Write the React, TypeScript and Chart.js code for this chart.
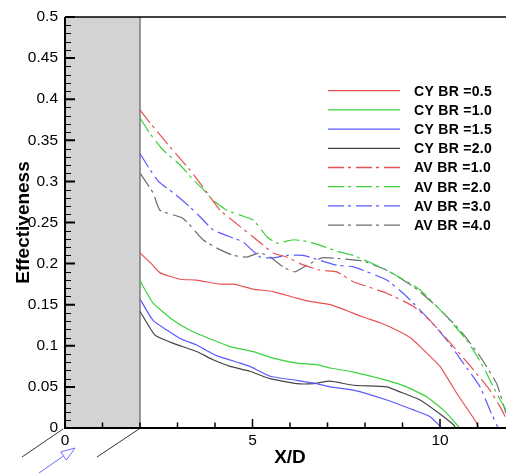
import React, { useEffect, useRef } from 'react';
import { Chart, registerables } from 'chart.js';

Chart.register(...registerables);

// ---- data (X/D, effectiveness) ----
const cyBR05: [number, number][] = [[2,0.213],[2.3,0.2],[2.53,0.189],[3.07,0.181],[3.5,0.18],[4.13,0.175],[4.5,0.175],[5.01,0.169],[5.55,0.166],[6.18,0.158],[6.53,0.154],[7.07,0.15],[7.5,0.143],[7.95,0.135],[8.4,0.128],[8.85,0.119],[9.2,0.11],[9.47,0.099],[10,0.075],[10.45,0.042],[10.98,0.006],[11.03,0]];
const cyBR10: [number, number][] = [[2,0.179],[2.35,0.152],[2.89,0.131],[3.33,0.119],[3.95,0.107],[4.4,0.099],[5.02,0.093],[5.55,0.085],[6.18,0.079],[6.71,0.077],[7.07,0.073],[7.69,0.068],[8.58,0.058],[9.11,0.05],[9.64,0.038],[10.09,0.022],[10.49,0.002],[10.52,0]];
const cyBR15: [number, number][] = [[2,0.157],[2.35,0.131],[3.07,0.109],[3.51,0.101],[4.04,0.088],[4.67,0.079],[4.93,0.075],[5.47,0.063],[6.18,0.058],[6.71,0.054],[7.07,0.05],[7.69,0.046],[8.58,0.034],[9.29,0.022],[9.73,0.014],[10.05,0]];
const cyBR20: [number, number][] = [[2,0.142],[2.4,0.113],[2.89,0.103],[3.51,0.093],[3.95,0.083],[4.4,0.075],[4.93,0.069],[5.47,0.06],[6.18,0.054],[6.62,0.054],[7.07,0.057],[7.69,0.052],[8.58,0.05],[8.93,0.044],[9.47,0.034],[9.91,0.02],[10.36,0.004],[10.42,0]];
const avBR10: [number, number][] = [[2,0.387],[2.27,0.371],[2.8,0.342],[3.33,0.314],[3.6,0.298],[3.87,0.281],[4.13,0.265],[4.4,0.255],[4.67,0.245],[5.11,0.229],[5.55,0.213],[5.91,0.208],[6.27,0.2],[6.8,0.192],[7.25,0.19],[7.69,0.178],[8.58,0.164],[9.29,0.148],[9.73,0.131],[10.36,0.099],[10.89,0.071],[11.33,0.046],[11.6,0.026],[11.76,0.012]];
const avBR20: [number, number][] = [[2,0.377],[2.27,0.358],[2.62,0.338],[3.07,0.32],[3.42,0.302],[3.69,0.29],[3.95,0.277],[4.31,0.265],[4.67,0.259],[5.02,0.253],[5.38,0.233],[5.64,0.225],[6.09,0.229],[6.44,0.227],[6.89,0.221],[7.25,0.215],[7.69,0.21],[8.58,0.192],[9.47,0.168],[10.18,0.135],[10.71,0.107],[11.15,0.075],[11.51,0.042],[11.76,0.022]];
const avBR30: [number, number][] = [[2,0.334],[2.27,0.314],[2.49,0.3],[2.89,0.286],[3.33,0.269],[3.6,0.257],[3.95,0.241],[4.49,0.231],[4.76,0.226],[5.2,0.208],[5.55,0.207],[5.91,0.21],[6.35,0.21],[6.8,0.204],[7.25,0.198],[7.69,0.196],[8.58,0.18],[9.11,0.16],[9.73,0.131],[10.18,0.107],[10.62,0.079],[11.07,0.05],[11.33,0.022],[11.55,0]];
const avBR40: [number, number][] = [[2,0.31],[2.35,0.286],[2.53,0.265],[3.15,0.255],[3.68,0.229],[4.13,0.217],[4.49,0.21],[4.84,0.208],[5.2,0.213],[5.47,0.208],[5.82,0.196],[6.13,0.19],[6.45,0.198],[6.85,0.207],[7.33,0.206],[7.95,0.203],[8.58,0.192],[9.29,0.172],[9.91,0.148],[10.53,0.119],[11.07,0.087],[11.51,0.054],[11.76,0.018]];

const seriesLabels = ['CY BR =0.5', 'CY BR =1.0', 'CY BR =1.5', 'CY BR =2.0', 'AV BR =1.0', 'AV BR =2.0', 'AV BR =3.0', 'AV BR =4.0'];
const seriesData = [cyBR05, cyBR10, cyBR15, cyBR20, avBR10, avBR20, avBR30, avBR40];

const xMajorTicks = [0, 5, 10];
const xMinorTicks = [1, 2, 3, 4, 6, 7, 8, 9, 11];
const yMajorTicks = [0, 0.05, 0.1, 0.15, 0.2, 0.25, 0.3, 0.35, 0.4, 0.45, 0.5];
const yMinorStep = 0.01;
const xMin = 0;
const xMax = 11.76;
const yMin = 0;
const yMax = 0.5;
const wallStart = 0;
const wallEnd = 2;
const xTitle = 'X/D';
const yTitle = 'Effectiveness';

// ---- styles ----
const colors = ['#e65252', '#3cd23c', '#5a5aff', '#464646', '#e65252', '#3cd23c', '#5a5aff', '#6e6e6e'];
const dashDot = [16, 4, 3, 5];
const FONT = '"Liberation Sans", Arial, sans-serif';

const decorPlugin = {
  id: 'decor',
  beforeDatasetsDraw(chart: any) {
    const { ctx, chartArea, scales } = chart;
    const { top, bottom } = chartArea;
    const x0 = scales.x.getPixelForValue(wallStart);
    const x2 = scales.x.getPixelForValue(wallEnd);
    ctx.save();
    ctx.fillStyle = '#d3d3d3';
    ctx.fillRect(x0, top, x2 - x0, bottom - top);
    ctx.strokeStyle = '#7a7a7a';
    ctx.lineWidth = 1.5;
    ctx.beginPath();
    ctx.moveTo(x2, top);
    ctx.lineTo(x2, bottom);
    ctx.stroke();
    ctx.restore();
  },
  afterDraw(chart: any) {
    const { ctx, chartArea, scales } = chart;
    const { top, bottom, left, right } = chartArea;
    const xs = scales.x;
    const ys = scales.y;
    ctx.save();
    // axes frame
    ctx.strokeStyle = '#000';
    ctx.lineWidth = 2;
    ctx.beginPath();
    ctx.moveTo(left, top);
    ctx.lineTo(left, bottom);
    ctx.lineTo(right, bottom);
    ctx.stroke();
    ctx.lineWidth = 1.5;
    ctx.beginPath();
    ctx.moveTo(left, top);
    ctx.lineTo(right, top);
    ctx.stroke();
    // ticks (inward)
    ctx.lineWidth = 1.5;
    ctx.beginPath();
    for (const v of xMajorTicks) {
      const px = xs.getPixelForValue(v);
      ctx.moveTo(px, bottom);
      ctx.lineTo(px, bottom - 9);
    }
    for (const v of xMinorTicks) {
      const px = xs.getPixelForValue(v);
      ctx.moveTo(px, bottom);
      ctx.lineTo(px, bottom - 5.5);
    }
    ctx.stroke();
    ctx.lineWidth = 2;
    ctx.beginPath();
    for (const v of yMajorTicks) {
      const py = ys.getPixelForValue(v);
      ctx.moveTo(left, py);
      ctx.lineTo(left + 10, py);
    }
    ctx.stroke();
    ctx.lineWidth = 1;
    ctx.beginPath();
    for (let i = 0; yMin + i * yMinorStep <= yMax + 1e-9; i++) {
      const v = yMin + i * yMinorStep;
      if (i % 5 === 0) continue;
      const py = Math.round(ys.getPixelForValue(v)) + 0.5;
      ctx.moveTo(left, py);
      ctx.lineTo(left + 6, py);
    }
    ctx.stroke();

    // ground hatch and flow arrow below the wall
    const px0 = xs.getPixelForValue(wallStart);
    const px2 = xs.getPixelForValue(wallEnd);
    ctx.strokeStyle = '#333';
    ctx.lineWidth = 1;
    ctx.beginPath();
    ctx.moveTo(px0 - 2, bottom + 1);
    ctx.lineTo(px0 - 43, bottom + 29);
    ctx.moveTo(px2 - 1, bottom + 1);
    ctx.lineTo(px2 - 43, bottom + 29);
    ctx.stroke();
    ctx.strokeStyle = '#6e6eff';
    const tip = [px0 + 10, bottom + 20];
    const dir = [0.82, -0.57];
    const per = [0.57, 0.82];
    const hl = 14;
    const base = [tip[0] - dir[0] * hl, tip[1] - dir[1] * hl];
    const tail = [px0 - 26, bottom + 45];
    ctx.beginPath();
    ctx.moveTo(tail[0], tail[1]);
    ctx.lineTo(base[0], base[1]);
    ctx.moveTo(tip[0], tip[1]);
    ctx.lineTo(base[0] + per[0] * 5, base[1] + per[1] * 5);
    ctx.lineTo(base[0] - per[0] * 5, base[1] - per[1] * 5);
    ctx.closePath();
    ctx.stroke();

    // axis titles
    ctx.fillStyle = '#000';
    ctx.font = `bold 19px ${FONT}`;
    ctx.textAlign = 'center';
    ctx.textBaseline = 'middle';
    ctx.fillText(xTitle, xs.getPixelForValue(6), bottom + 30);
    ctx.save();
    ctx.translate(24, (top + bottom) / 2);
    ctx.rotate(-Math.PI / 2);
    ctx.fillText(yTitle, 0, 0);
    ctx.restore();

    // legend
    const lx0 = 328, lx1 = 400, tx = 414, ly0 = 90.7, lstep = 19.2;
    ctx.font = `bold 14px ${FONT}`;
    ctx.textAlign = 'left';
    chart.data.datasets.forEach((ds: any, i: number) => {
      const y = ly0 + i * lstep;
      ctx.strokeStyle = ds.borderColor;
      ctx.lineWidth = 1.3;
      ctx.setLineDash(ds.borderDash || []);
      ctx.beginPath();
      ctx.moveTo(lx0, y);
      ctx.lineTo(lx1, y);
      ctx.stroke();
      ctx.setLineDash([]);
      ctx.fillStyle = '#000';
      (ctx as any).letterSpacing = '0.3px';
      ctx.fillText(ds.label, tx, y + 1);
      (ctx as any).letterSpacing = '0px';
    });
    ctx.restore();
  },
};

export default function App() {
  const ref = useRef<HTMLCanvasElement | null>(null);
  useEffect(() => {
    if (!ref.current) return;
    const chart = new Chart(ref.current, {
      type: 'line',
      data: {
        datasets: seriesData.map((d, i) => ({
          label: seriesLabels[i],
          data: d.map(([x, y]) => ({ x, y })),
          borderColor: colors[i],
          borderWidth: 1.2,
          borderDash: i >= 4 ? dashDot : [],
          pointRadius: 0,
          tension: 0.15,
          fill: false,
        })),
      },
      options: {
        animation: false,
        responsive: false,
        devicePixelRatio: 1,
        layout: { padding: { top: 17, right: 0, left: 0, bottom: 0 } },
        plugins: { legend: { display: false }, tooltip: { enabled: false } },
        scales: {
          x: {
            type: 'linear',
            min: xMin,
            max: xMax,
            grid: { display: false, drawTicks: false },
            border: { display: false },
            afterFit: (s: any) => { s.height = 46; },
            afterBuildTicks: (s: any) => { s.ticks = xMajorTicks.map((v) => ({ value: v })); },
            ticks: {
              color: '#000',
              padding: 3,
              maxRotation: 0,
              font: { family: FONT, size: 15.5 },
              callback: (v: any) => String(v),
            },
          },
          y: {
            type: 'linear',
            min: yMin,
            max: yMax,
            grid: { display: false, drawTicks: false },
            border: { display: false },
            afterFit: (s: any) => { s.width = 65; },
            afterBuildTicks: (s: any) => { s.ticks = yMajorTicks.map((v) => ({ value: v })); },
            ticks: {
              color: '#000',
              padding: 7,
              font: { family: FONT, size: 15.5 },
              callback: (v: any) => String(Number(Number(v).toFixed(2))),
            },
          },
        },
      },
      plugins: [decorPlugin],
    });
    return () => chart.destroy();
  }, []);
  return (
    <div style={{ position: 'absolute', left: 0, top: 0, width: 506, height: 474, background: '#fff' }}>
      <canvas ref={ref} width={506} height={474} />
    </div>
  );
}
